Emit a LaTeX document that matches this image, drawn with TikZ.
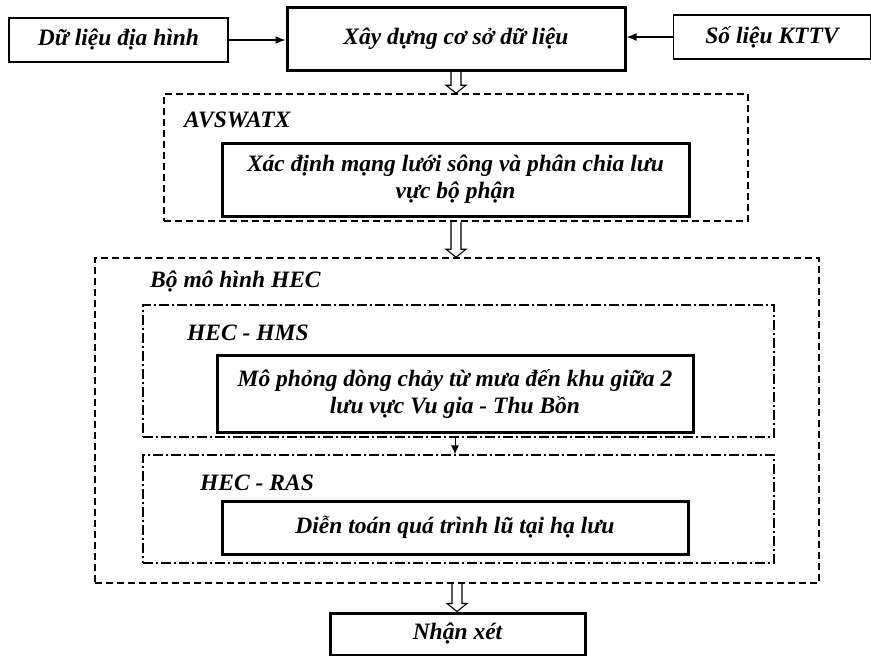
\documentclass[tikz,border=0pt]{standalone}
\usepackage{fontspec}
\setmainfont{Liberation Serif}
\usetikzlibrary{arrows.meta,calc}

\tikzset{
  databox/.style={draw, line width=1.3pt, minimum height=44pt, inner sep=0pt},
  stepbox/.style={draw, line width=3pt, inner sep=0pt, align=center},
  groupbox/.style={draw, line width=1.6pt, dash pattern=on 7pt off 4pt, inner sep=0pt},
  subbox/.style={draw, line width=1.2pt, dash pattern=on 10pt off 3pt on 2pt off 3pt, inner sep=0pt},
  grouplabel/.style={anchor=west, inner sep=0pt}
}

% hollow block arrow between two points
\newcommand{\hollowarrow}[2]{%
  \draw[line width=1.1pt] let \p1=(#1), \p2=(#2) in
    (\x2-5pt,\y1) -- (\x2-5pt,\y2+8pt) -- (\x2-10pt,\y2+8pt) -- (\x2,\y2)
    -- (\x2+10pt,\y2+8pt) -- (\x2+5pt,\y2+8pt) -- (\x2+5pt,\y1);}

\begin{document}
\begin{tikzpicture}[x=1pt,y=-1pt,>={Latex[length=10pt,width=8pt]},
    font=\bfseries\itshape\fontsize{23.5}{27}\selectfont]
    \useasboundingbox (0,0) rectangle (871,656);

    % input data
    \node[databox, minimum width=219pt] (dlieu) at (118.5,40) {Dữ liệu địa hình};
    \node[stepbox, minimum width=338pt, minimum height=63pt] (xdung) at (456,38.5) {Xây dựng cơ sở dữ liệu};
    \node[databox, minimum width=197pt] (solieu) at (772,37) {Số liệu KTTV};

    \draw[line width=1.5pt,->] (dlieu.east) -- (dlieu.east -| xdung.west);
    \draw[line width=1.5pt,->] (solieu.west) -- (solieu.west -| xdung.east);

    % AVSWATX
    \node[groupbox, minimum width=584pt, minimum height=127pt] (avswatx) at (456,157.5) {};
    \node[grouplabel] (avlabel) at (184,120) {AVSWATX};
    \node[stepbox, minimum width=467pt, minimum height=73pt] (xacdinh) at (455.5,179.5)
        {Xác định mạng lưới sông và phân chia lưu\\vực bộ phận};

    % HEC model
    \node[groupbox, minimum width=724pt, minimum height=325pt] (hec) at (457,420.5) {};
    \node[grouplabel] (heclabel) at (150,282) {Bộ mô hình HEC};

    % HEC - HMS
    \node[subbox, minimum width=631pt, minimum height=132pt] (hms) at (458.5,371) {};
    \node[grouplabel] (hmslabel) at (187,333) {HEC - HMS};
    \node[stepbox, minimum width=476pt, minimum height=77pt] (mophong) at (455,393.5)
        {Mô phỏng dòng chảy từ mưa đến khu giữa 2\\lưu vực Vu gia - Thu Bồn};

    % HEC - RAS
    \node[subbox, minimum width=631pt, minimum height=108pt] (ras) at (458.5,509) {};
    \node[grouplabel] (raslabel) at (200,483) {HEC - RAS};
    \node[stepbox, minimum width=466pt, minimum height=53pt] (dientoan) at (455,527.5)
        {Diễn toán quá trình lũ tại hạ lưu};

    \draw[line width=1pt,-{Latex[length=9pt,width=8pt]}] (mophong.south |- hms.south) -- (mophong.south |- ras.north);

    % result
    \node[stepbox, minimum width=255pt, minimum height=42pt] (nhanxet) at (457.5,634) {Nhận xét};

    % block arrows
    \hollowarrow{xdung.south}{xdung.south |- avswatx.north}
    \hollowarrow{avswatx.south}{avswatx.south |- hec.north}
    \hollowarrow{hec.south}{hec.south |- nhanxet.north}
\end{tikzpicture}
\end{document}
